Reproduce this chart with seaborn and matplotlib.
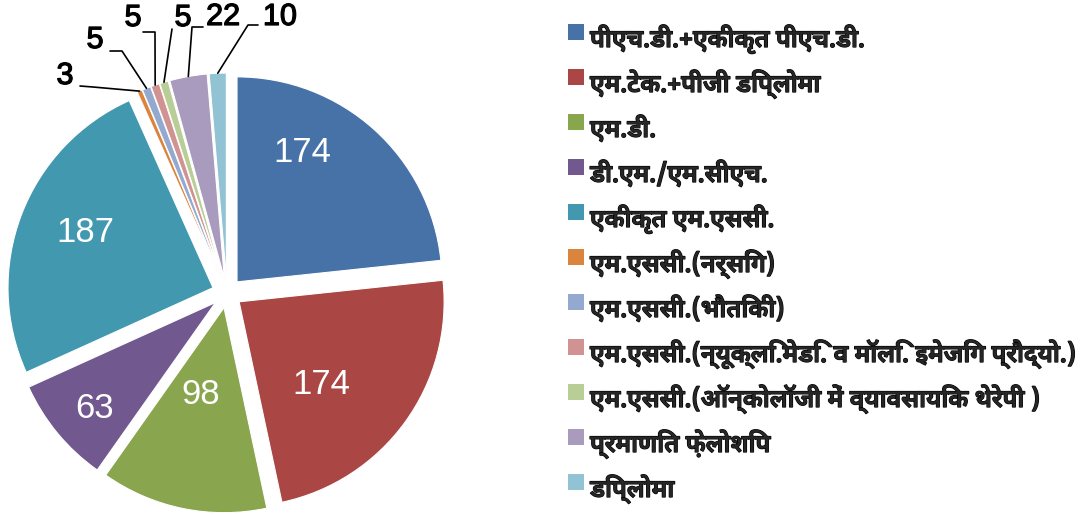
import numpy as np
import matplotlib
matplotlib.use("Agg")
import matplotlib.pyplot as plt
import matplotlib.patheffects as pe
import seaborn as sns
from matplotlib import font_manager
from matplotlib.ft2font import FT2Font
from matplotlib.patches import Rectangle

# data
categories = [
    "पीएच.डी.+एकीकृत पीएच.डी.",
    "एम.टेक.+पीजी डिप्लोमा",
    "एम.डी.",
    "डी.एम./एम.सीएच.",
    "एकीकृत एम.एससी.",
    "एम.एससी.(नर्सिंग)",
    "एम.एससी.(भौतिकी)",
    "एम.एससी.(न्यूक्लि.मेडि. व मॉलि. इमेजिंग प्रौद्यो.)",
    "एम.एससी.(ऑन्कोलॉजी में व्यावसायिक थेरेपी )",
    "प्रमाणित फ़ेलोशिप",
    "डिप्लोमा",
]
counts = [174, 174, 98, 63, 187, 3, 5, 5, 5, 22, 10]
colors = ["#4672A8", "#AA4643", "#89A54E", "#71588F", "#4198AF", "#DB843D",
          "#93A9CF", "#D19392", "#B9CD96", "#A99BBD", "#92C3D4"]

# find a font that can draw Devanagari, bold if possible
cands = []
for f in font_manager.fontManager.ttflist:
    try:
        if 0x0915 in FT2Font(f.fname).get_charmap():
            w = f.weight if isinstance(f.weight, int) else (700 if "bold" in str(f.weight) else 400)
            cands.append(("Devanagari" in f.name, w >= 600, f.style == "normal", f.fname))
    except Exception:
        pass
cands.sort(reverse=True)

sns.set_style("white")
plt.rcParams["font.family"] = ["Liberation Sans", "DejaVu Sans"]

W, H = 1086, 515
fig = plt.figure(figsize=(W / 100, H / 100), dpi=100)

# pie centre / radius in pixels (layout)
CX, CY, RPX = 227, 293, 205
AX_W = 460
ax = fig.add_axes([0, 0, AX_W / W, 1])


def px(x, y):
    return ((x - CX) / RPX, (CY - y) / RPX)


wedges, _ = ax.pie(counts, colors=sns.color_palette(colors), startangle=90,
                   counterclock=False, explode=[0.073] * len(counts),
                   wedgeprops=dict(edgecolor="white", linewidth=0.8))
ax.set_xlim(-CX / RPX, (AX_W - CX) / RPX)
ax.set_ylim((CY - H) / RPX, CY / RPX)
ax.set_aspect("auto")
ax.axis("off")

# labels inside big slices (pixel positions)
inner_pos = {0: (302, 153), 1: (321, 385), 2: (201, 395), 3: (95, 408), 4: (85, 233)}
for i, (x, y) in inner_pos.items():
    ax.text(*px(x, y), str(counts[i]), color="white", fontsize=25,
            ha="center", va="center")

# labels outside small slices with leader lines: text centre, line start, elbow
outer_pos = {
    5: ((65, 76), (80, 86), (93, 87)),
    6: ((95, 40), (110, 51), (122, 51)),
    7: ((133, 18), (143, 32), (155, 32)),
    8: ((183, 18), (172, 29), (172, 29)),
    9: ((223, 17), (203, 27), (192, 27)),
    10: ((280, 17), (258, 25), (248, 25)),
}
heavy = [pe.withStroke(linewidth=0.9, foreground="black")]
for i, (tpos, start, elbow) in outer_pos.items():
    w = wedges[i]
    mid = np.deg2rad((w.theta1 + w.theta2) / 2)
    ex = w.center[0] + w.r * np.cos(mid)
    ey = w.center[1] + w.r * np.sin(mid)
    p1, p2 = px(*start), px(*elbow)
    ax.plot([p1[0], p2[0], ex], [p1[1], p2[1], ey], color="black", lw=1.2,
            clip_on=False)
    ax.text(*px(*tpos), str(counts[i]), color="black", fontsize=22,
            ha="center", va="center", path_effects=heavy)

# legend: squares and texts, one row every 45 px
if cands:
    fp = font_manager.FontProperties(fname=cands[0][3], size=16)
else:
    fp = font_manager.FontProperties(family="DejaVu Sans", size=16)
LX, LY0, STEP, SQ = 568, 32, 45, 16
texts = []
for i, (lab, c) in enumerate(zip(categories, colors)):
    yc = LY0 + i * STEP
    fig.patches.append(Rectangle((LX / W, 1 - (yc + SQ / 2) / H), SQ / W, SQ / H,
                                 transform=fig.transFigure, facecolor=c,
                                 edgecolor="none"))
    texts.append(fig.text(590 / W, 1 - (yc + 15) / H, lab, fontproperties=fp,
                          ha="left", va="baseline", path_effects=heavy))

# shrink the legend font so the widest entry ends where the reference does
r = fig.canvas.get_renderer()
widest = max(t.get_window_extent(r).width for t in texts)
size = min(18, 16 * (1075 - 590) / widest)
for t in texts:
    t.set_fontsize(size)

fig.savefig("out.png", dpi=100)
